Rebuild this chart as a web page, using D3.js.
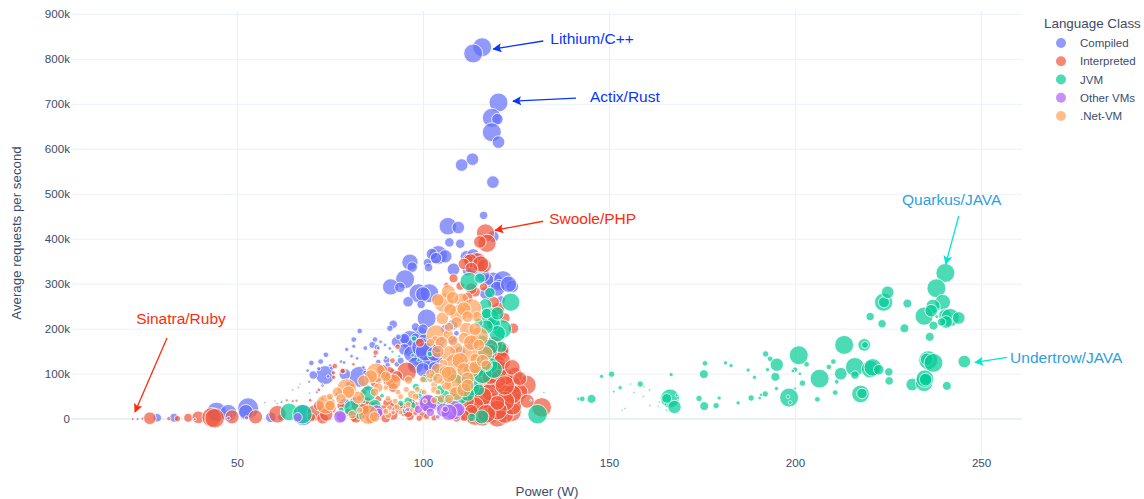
<!DOCTYPE html>
<meta charset="utf-8">
<style>
    body { margin: 0; background: #fff; font-family: "Liberation Sans", Arial, sans-serif; }
    text { fill: #3a4c6c; }
    .grid line { stroke: #ebf0f8; }
    .grid path { display: none; }
    circle.dot { stroke: #fff; stroke-width: 1; fill-opacity: 0.7; stroke-opacity: 0.8; }
</style>
<body>
<script src="https://d3js.org/d3.v7.min.js"></script>
<script>

    // [power W, requests (thousands), score]
    var compiled = [
        [115.9,827,81],[113.5,813,81],[120.3,704,81],[118.5,670,81],[120,667,30],[118.5,638,81],[120.3,616,36],[113.3,578,36],[110.4,565,36],[118.8,527,36],
        [116.3,453,16],[106.7,429,70],[109.5,426,36],[107.1,393,20],[110,390,20],[118.9,406,30],[104.1,365,80],[102.4,367,30],[106,362,40],[103.5,358,30],
        [96.5,349,60],[97.1,338,25],[101.2,348,16],[101.5,337,16],[108.2,333,36],[111.7,361,36],[113.5,365,36],[115,358,30],[118.9,306,81],[121.5,309,81],[120.5,298,30],[117.5,310,30],
        [95.2,311,81],[91.3,294,60],[93.8,293,25],[98.8,280,81],[101.7,280,81],[100,278,50],[96,261,25],[99.5,255,16],[101,224,81],[92,211,16],[91.1,202,9],
        [83,196,7],[81.4,177,7],[81.4,162,4],[79.5,155,4],[73.9,143,7],[80.8,140,3],[82.3,135,3],[87.1,177,7],[88.6,172,3],[86.4,165,11],[87.6,160,7],[89.8,165,3],[91.1,157,3],
        [92.9,172,25],[94.7,179,11],[95.6,168,25],[90.2,131,11],[88,127,7],[83,94,100],[73.7,98,81],[70.5,98,16],[70,125,7],[72.5,128,7],[72,112,4],[69,108,3],[75.5,115,6],[78,128,3],[74.5,95,3],[73,75,3],
        [69.4,83,2],[67,78,1],[65,65,1],[66.5,70,1],[69.5,58,1],[71.5,60,2],[72.2,64,1],[73,78,1],[79,100,30],[81.5,40,16],[79,35,25],[77,48,4],
        [99.2,191,45],[96.5,176,81],[95,179,25],[93.4,183,7],[98,181,20],[100.2,178,25],[102.7,160,60],[101,135,100],[99.2,139,81],[101.9,125,70],[103.5,135,40],[109,191,7],
        [87.1,140,3],[88,158,3],[90,137,3],[84.5,158,5],[78.8,126,3],[75,120,2],[84,115,3],[96,150,20],[93,122,7],[97,118,11],[90.5,120,7],[80,76,11],[84.5,103,6],
        [98,205,16],[100,200,25],[95,155,30],[97,145,60],[99.5,160,81],[100.5,150,81],[103,145,50],[105,175,16],[104,160,30],[98,120,60],[100,110,45],[103,115,30],[94,130,11],[92,105,9],[89,100,11],[86,90,5],[85,85,5],[85,70,9],[86,65,3],
        [108,210,25],[108,175,16],[113,170,16],[110,150,25],[106,200,20],[112,330,25],[117,280,40],[121,265,16],[120,290,50],[124,295,36],[123,300,60],[116,320,45],[113.5,335,36],[115,342,40],
        [28.6,3,16],[33.1,3,18],[23.3,0,2],[25,2,1],[44.5,16,87],[47.7,14,64],[53,24,100],[52.4,16,50],[59.1,4,25],[57.5,37,1],[60.2,40,1],[60.8,35,1],[67.8,9,100],[61.8,4,9],[48.5,7,4]
    ];
    var interpreted = [
        [116.8,414,75],[117.2,391,75],[115.3,394,36],[114.4,350,75],[116.5,341,45],[112,355,25],[108.2,313,18],[106.3,298,7],[114,283,25],[116.3,294,16],[120.3,246,36],[124.3,202,25],[120.7,153,81],[119.8,139,70],
        [112.8,352,45],[111,345,30],[115.5,345,60],[113,335,36],[113,290,30],[110,296,16],[112,270,25],[119,260,30],[122,225,25],[118,210,30],
        [123.8,16,87],[127.8,76,87],[124.7,98,55],[120.3,150,87],[121.2,152,45],[117.6,72,87],[117.6,46,87],[113.6,31,55],[123.8,76,87],[122.5,94,55],[121.1,65,45],[118.9,16,45],[122,26,45],[125.7,46,25],[131.9,26,87],
        [119.8,124,70],[121.2,105,36],[116,94,55],[115,72,20],[113.6,46,20],[112.5,22,30],[116.5,22,40],[119.5,38,81],[122,58,60],[120,85,60],[118,30,87],[114.5,60,30],
        [112,12,60],[114,8,87],[116,4,70],[118,8,60],[120,4,87],[122,10,70],[124,30,81],[126,60,60],[128,40,45],[124,55,81],[122,40,87],[120,20,87],[118,60,70],[116,50,81],[114,30,70],[112,40,40],[116,110,50],[118,95,60],[120,110,87],[121,130,81],[119,165,70],[118,150,50],[122,75,87],[124,115,55],[117,12,80],[113,18,40],[111,8,30],[109,3,16],[120,36,50],[126,90,45],
        [93.2,161,7],[87.3,148,7],[91.8,130,7],[95.6,105,87],[78.6,107,7],[99.2,170,18],[76.3,118,7],[78.4,107,7],[75.9,103,4],[76,93,4],[81.3,122,3],[91,105,25],[90.2,97,16],[91.1,87,45],[87,80,16],
        [90.6,35,25],[93.4,20,16],[94.6,24,25],[91.5,16,7],[81.4,2,11],[85,30,45],[82,4,30],[88,8,16],[96.5,6,16],[100,12,16],[98,30,16],[92,8,20],[94,30,9],[85,18,50],[78,30,16],[71,14,60],[75,25,36],[73,2,30],
        [82,30,20],[85,40,16],[87,30,16],[89,20,25],[92,28,16],[95,15,16],[97,38,11],[99,2,9],[101,6,9],[103,3,9],[86,2,25],[90,2,20],[80,15,16],[77,12,9],[83,46,9],[84,22,30],[88,45,11],[72,30,25],[74,10,40],[70,4,16],[88,85,9],[89,110,25],[93,95,30],[92,70,20],[84,60,9],[81,75,5],[98,15,9],[96,14,20],[100,22,7],
        [26.6,2,36],[22,0,2],[24.6,1,2],[31.7,1,4],[34,1,9],[36.9,3,18],[39.6,4,36],[43.2,4,87],[44,2,87],[48.7,5,45],[55,5,45],[60.9,11,70],[63.4,42,2],[65,40,2],[66,41,2],[69.7,42,3],[73,45,3],[77,55,4],[72,65,3],[82,60,3]
    ];
    var jvm = [
        [141.8,45,3],[142.8,45,7],[145.3,45,18],[148,95,4],[150.7,100,9],[151.3,61,1.5],[153,70,4],[155.8,78,1],[156.7,59,1],[158.4,78,9],[159.4,72,1],[160.9,65,1],[159.2,50,1],[153.5,20,1],[154.3,24,1],[161,30,1],[163.2,29,1],[163.5,38,1],
        [166.7,99,4],[166,65,1],[166.4,46,81],[165.5,46,22],[167.6,27,40],[168.2,53,2],[165.2,33,2],[165.5,20,1],[168.5,42,1],
        [175.8,124,7],[175.5,100,18],[174.2,46,9],[175.6,29,18],[178.8,30,9],[179.6,47,4],[181.3,125,4],[182.8,119,4],[184.7,36,4],[187.4,109,4],[189.1,93,4],[188.2,47,9],[190.5,47,3],[190.9,54,3],[192,56,9],
        [192.1,145,9],[193.3,134,7],[195.1,121,40],[192.6,110,4],[194.7,94,18],[195,68,4],[198.4,48,81],[198.1,50,3],[198.7,37,3],[201,142,81],[203.1,122,7],[200,110,7],[199.4,107,3],[201.3,101,3],[202,80,9],[200,68,2],[206,44,7],[206.6,90,81],
        [209.1,116,7],[210.3,128,7],[212.3,101,36],[211.2,83,5],[210.8,59,7],[213.2,165,81],[216.1,116,81],[216.1,98,16],[217.6,56,70],[218,57,25],[218.6,165,36],[218.8,165,11],[220.2,111,70],[220.9,115,70],[222.5,110,25],[225.2,105,16],[225.3,85,16],
        [220.2,228,16],[223.4,212,16],[223.8,260,75],[223.9,260,28],[224.9,282,36],[230.2,257,18],[229.4,202,18],[231.5,77,36],[236.2,183,18],[234.7,81,70],[234.9,90,70],[235.1,88,36],[235.8,131,81],[235.4,133,36],[237.2,125,81],[240.8,74,18],[245.5,128,36],
        [240.4,325,81],[238,291,81],[239.7,260,55],[237.1,251,45],[234.7,229,75],[236.6,241,36],[240.3,231,36],[241.7,226,75],[240.6,216,36],[244,225,36],[237.2,208,18],[239.4,216,16],[238.1,228,3],
        [112.4,306,75],[115.3,313,25],[123.6,260,75],[118,281,25],[116.8,254,36],[118,228,70],[121.3,200,81],[118.9,213,45],[117.1,235,25],[116.7,139,81],[118,120,55],[114.4,109,55],[112.2,109,25],[113.1,98,45],[115.8,5,45],[113.1,4,16],[130.8,11,87],[132.5,59,1],[129,42,1],
        [116,100,81],[119,110,70],[113,70,60],[111,80,45],[115,65,30],[109,95,30],[105,45,25],[107,35,36],[110,50,55],[112,55,45],[104,40,30],[102,35,25],[100,33,16],[97,30,16],[94,35,9],[95,18,5],[108,60,20],[106,55,16],[117,120,36],[120,190,60],[120,235,40],[117,205,45],[116,175,25],[115,215,16],[121,160,30],[118,160,60],[87,30,36],[83,8,16],[89,52,5],[84,40,5],
        [104.6,105,16],[102.8,94,16],[100.5,90,16],[98.1,72,11],[99.6,61,7],[101.9,145,7],[97.6,179,7],[97.2,142,3],[93.6,140,2],[91.8,150,2],[98.8,131,3],[104.6,65,20],[80.8,24,55],[85.3,57,55],[78,20,8],[96,40,16],[99,50,11],[108,95,30],[110,90,25],[64,16,70],[67.6,11,87],[62,38,2]
    ];
    var otherVms = [
        [101.2,35,81],[108.2,20,87],[109.5,21,40],[98.8,22,16],[103.7,26,9],[100.8,24,11],[78.1,5,25],[87.5,16,45],[77.7,5,36],[101.4,35,70],[95.5,20,3],[66.3,4,20],[47.7,2,3],[38.7,0,2],[52.6,3,4],[86,8,8],
        [104,5,5],[106,15,16],[105.5,20,45],[107,15,60],[102,15,16],[106,22,9],[88,14,20],[84,5,3],[92,22,5],[96,22,5]
    ];
    var netVm = [
        [105.6,259,87],[106.8,283,45],[110.4,265,45],[113.1,246,87],[109.5,235,70],[105.2,224,36],[107.3,243,36],[114.5,228,25],[103.5,188,87],[106.8,187,25],[115,183,87],[111.7,200,45],[112.2,146,87],[109,157,36],[106.8,146,55],[116.7,146,55],
        [108.6,124,87],[105.5,124,16],[114,135,25],[103.4,176,16],[108.6,79,87],[109,57,45],[106.3,76,25],[103,76,11],[100,88,11],[102,88,8],[103,65,11],[105,84,8],[98.5,66,8],[100.3,60,8],[104,60,8],[100.5,40,5],
        [96.1,87,16],[95.5,66,8],[87.4,103,87],[92,83,55],[93.3,60,8],[90.6,46,8],[90.7,9,11],[85.3,10,87],[79.5,68,87],[82.6,48,36],[75,35,16],[73.9,33,87],[94,50,8],[92.5,40,8],[91,25,8],[90,70,7],[97,20,5],
        [104,265,36],[108,270,36],[111,245,45],[112,228,30],[109,215,30],[107,205,20],[111,180,30],[113,170,55],[114,200,36],[108,175,25],[105,170,36],[102,170,16],[104,150,36],[110,130,60],[113,110,60],[111,110,45],[104,110,40],[106,105,36],[107,100,60],[102,100,20],[104,90,25],[112,90,40],[114,115,36],[115,165,30],[116,130,36],[117,120,25],[105,45,16],[107,45,20],[103,42,11],[111,65,45],[112,75,36],[97,55,16],[88,70,20],[90,95,25],[86,95,40],[84,85,30],[87,60,16],[83,20,9],[81,10,16],[87,5,25],[90,17,9],[94,15,5],[93,27,9],[80,60,36],[77,60,25],[78,45,25],[75,50,11],[75,30,25],[92,15,5],[96,32,9],[98,50,11]
    ];

    var series = [compiled, interpreted, jvm, otherVms, netVm];
    var classNames = ["Compiled", "Interpreted", "JVM", "Other VMs", ".Net-VM"];
    var classColors = ["#636efa", "#ef553b", "#00cc96", "#ab63fa", "#ffa15a"];

    var xTicks = [50, 100, 150, 200, 250];
    var yTicks = [0, 100, 200, 300, 400, 500, 600, 700, 800, 900];

    // tip is in data units, lineFrom/text are pixel offsets from the tip
    var notes = [
        {label: "Lithium/C++", w: 118.9, k: 823, color: "#0a35ff", lineFrom: [50, -8], text: [57, -10], anchor: "start"},
        {label: "Actix/Rust", w: 124.2, k: 707, color: "#0a35ff", lineFrom: [63, -3], text: [77, -5], anchor: "start"},
        {label: "Swoole/PHP", w: 119.4, k: 420, color: "#ff2a0a", lineFrom: [48, -9], text: [54, -12], anchor: "start"},
        {label: "Sinatra/Ruby", w: 22.6, k: 16, color: "#ff2a0a", lineFrom: [32, -74], text: [46, -93], anchor: "middle"},
        {label: "Quarkus/JAVA", w: 240.5, k: 345, color: "#2f9fe0", arrow: "#00e8d0", lineFrom: [13, -48], text: [6, -64], anchor: "middle"},
        {label: "Undertrow/JAVA", w: 248.4, k: 126, color: "#2f9fe0", arrow: "#00e8d0", lineFrom: [32, -5], text: [35, -5], anchor: "start"}
    ];

    var width = 1144, height = 499;

    var x = d3.scaleLinear().domain([5.4, 261]).range([71, 1022]);
    var y = d3.scaleLinear().domain([-82, 907.5]).range([456, 11]);
    var size = d3.scaleSqrt().domain([0, 100]).range([0, 10.5]);

    var svg = d3.select("body").append("svg")
        .attr("width", width)
        .attr("height", height)
        .style("display", "block");

    svg.append("g")
        .attr("class", "grid x")
        .attr("transform", "translate(0,456)")
        .call(d3.axisBottom(x).tickValues(xTicks).tickSize(-445).tickPadding(3))
        .selectAll("text").attr("font-size", 11.6).attr("font-family", "Liberation Sans");

    svg.append("g")
        .attr("class", "grid y")
        .attr("transform", "translate(71,-0.5)")
        .call(d3.axisLeft(y).tickValues(yTicks).tickSize(-951).tickPadding(1)
            .tickFormat(function(d) { return d === 0 ? "0" : d + "k"; }))
        .selectAll("text").attr("font-size", 11.6).attr("font-family", "Liberation Sans");

    svg.selectAll(".grid.y .tick line")
        .attr("stroke-width", function(d) { return d === 0 ? 2 : 1; });

    series.forEach(function(points, i) {
        svg.append("g").selectAll("circle")
            .data(points)
            .join("circle")
            .attr("class", "dot")
            .attr("cx", function(d) { return x(d[0]); })
            .attr("cy", function(d) { return y(d[1]); })
            .attr("r", function(d) { return size(d[2]); })
            .attr("fill", classColors[i]);
    });

    svg.append("text")
        .attr("x", 547).attr("y", 496)
        .attr("text-anchor", "middle")
        .attr("font-size", 13.3)
        .text("Power (W)");

    svg.append("text")
        .attr("transform", "translate(21,233) rotate(-90)")
        .attr("text-anchor", "middle")
        .attr("font-size", 13.3)
        .text("Average requests per second");

    notes.forEach(function(n, i) {
        var arrowColor = n.arrow || n.color;
        var id = "tip" + i;
        svg.append("marker")
            .attr("id", id)
            .attr("viewBox", "0 0 10 10")
            .attr("refX", 9).attr("refY", 5)
            .attr("markerWidth", 10).attr("markerHeight", 9)
            .attr("markerUnits", "userSpaceOnUse")
            .attr("orient", "auto")
            .append("path").attr("d", "M0,0L10,5L0,10L2,5Z").attr("fill", arrowColor);

        var tx = x(n.w), ty = y(n.k);
        svg.append("line")
            .attr("x1", tx + n.lineFrom[0]).attr("y1", ty + n.lineFrom[1])
            .attr("x2", tx).attr("y2", ty)
            .attr("stroke", arrowColor)
            .attr("stroke-width", 1.3)
            .attr("marker-end", "url(#" + id + ")");
        svg.append("text")
            .attr("x", tx + n.text[0]).attr("y", ty + n.text[1])
            .attr("dy", "0.35em")
            .attr("text-anchor", n.anchor)
            .attr("font-size", 15.5)
            .style("fill", n.color)
            .text(n.label);
    });

    var legend = svg.append("g");
    legend.append("text")
        .attr("x", 1044).attr("y", 28)
        .attr("font-size", 13.4)
        .text("Language Class");
    var rowY = d3.scalePoint().domain(classNames).range([43, 116]);
    classNames.forEach(function(name, i) {
        legend.append("circle")
            .attr("cx", 1061).attr("cy", rowY(name)).attr("r", 5)
            .attr("fill", classColors[i]).attr("fill-opacity", 0.7);
        legend.append("text")
            .attr("x", 1080).attr("y", rowY(name)).attr("dy", "0.35em")
            .attr("font-size", 11.5)
            .text(name);
    });

</script>
</body>
